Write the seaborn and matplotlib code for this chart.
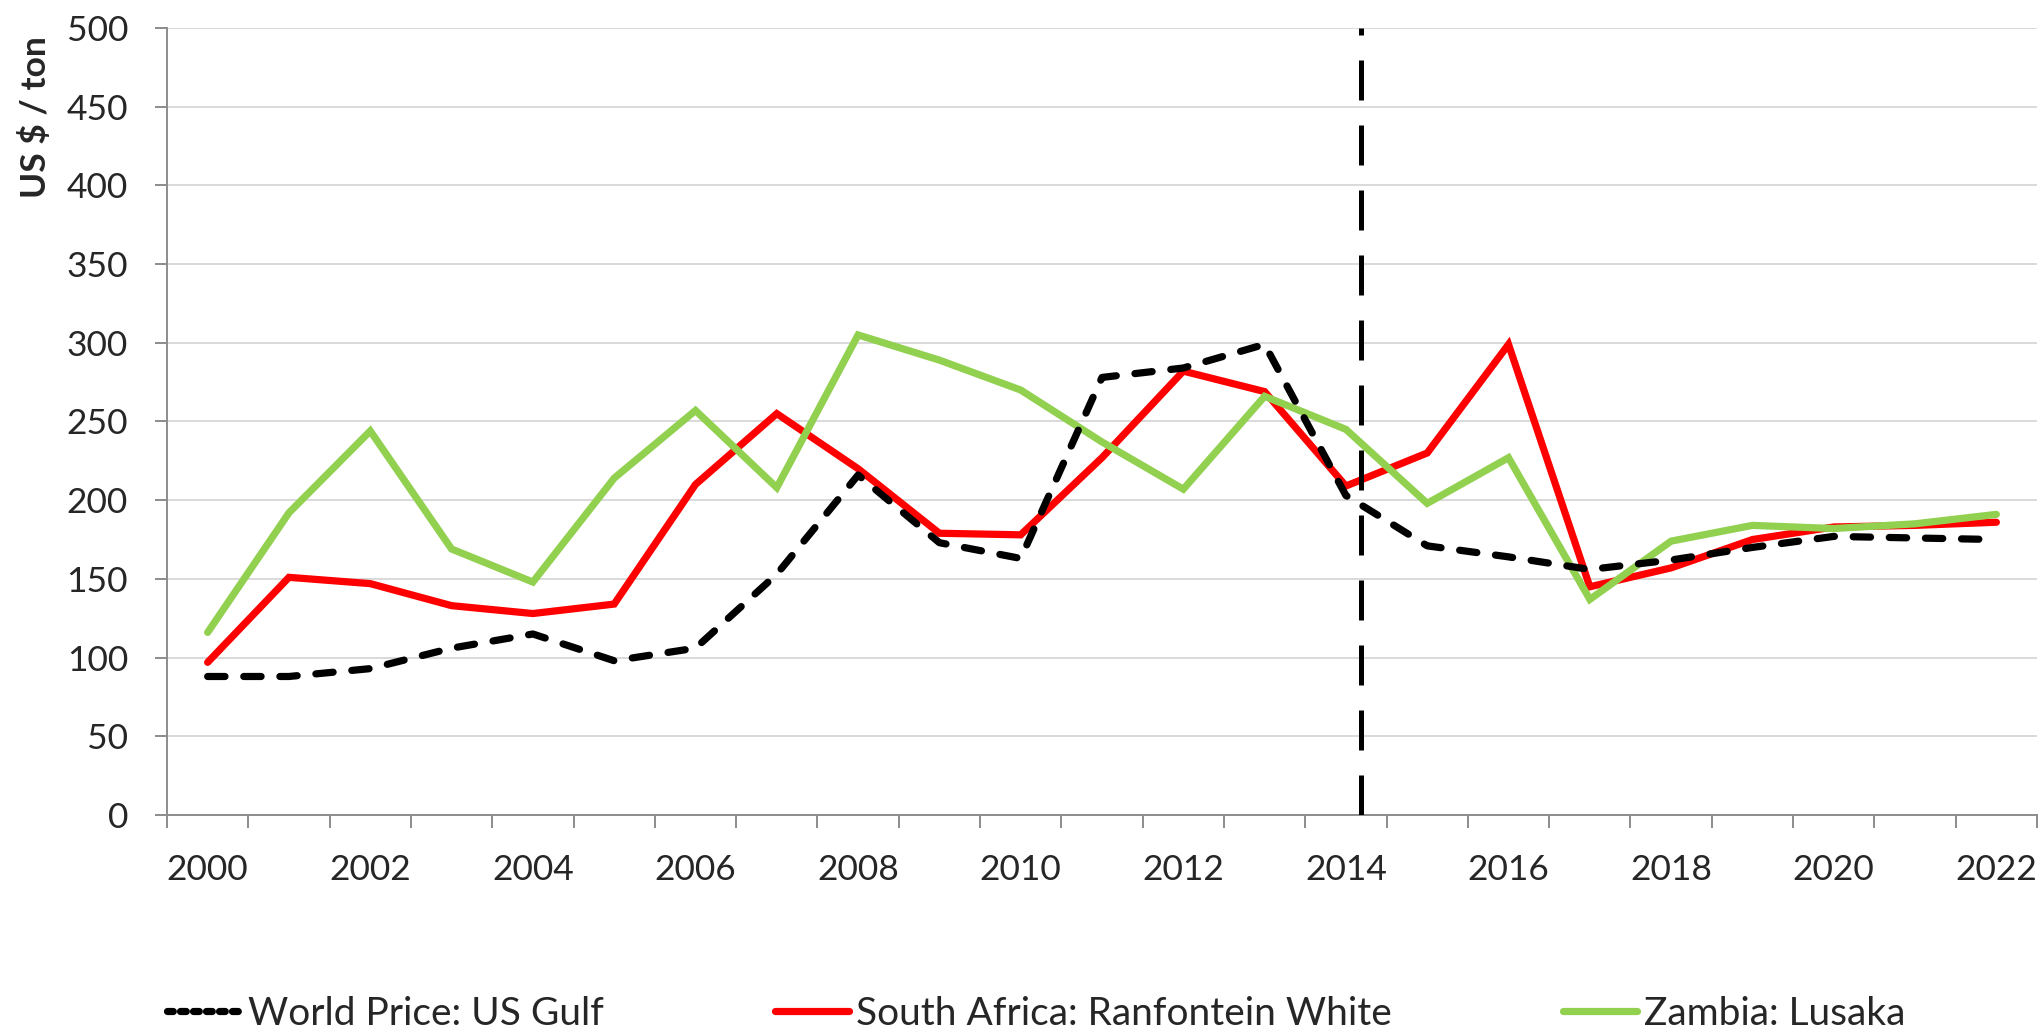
import pandas as pd
import numpy as np
import matplotlib
matplotlib.use("Agg")
import matplotlib.pyplot as plt
import seaborn as sns
from matplotlib.lines import Line2D

years = list(range(2000, 2023))
world_gulf = [88, 88, 93, 106, 115, 98, 106, 153, 216, 173, 163, 278, 284, 299, 203,
              171, 164, 156, 162, 170, 177, 176, 175]
sa_ranfontein = [97, 151, 147, 133, 128, 134, 210, 255, 220, 179, 178, 227, 282, 269, 209,
                 230, 299, 145, 157, 175, 183, 184, 186]
zambia_lusaka = [116, 192, 244, 169, 148, 214, 257, 208, 305, 289, 270, 237, 207, 266, 245,
                 198, 227, 137, 174, 184, 182, 185, 191]
series_names = ["World Price: US Gulf", "South Africa: Ranfontein White", "Zambia: Lusaka"]
year_labels = [str(y) for y in years[::2]]
marker_year = 14.19  # vertical split, category position (2014 ~ +0.19)

sns.set_theme(style="white")
plt.rcParams["font.family"] = ["Lato", "DejaVu Sans"]
fs = 25.5

df = pd.DataFrame({
    "pos": np.arange(len(years)),
    "year": years,
    series_names[0]: world_gulf,
    series_names[1]: sa_ranfontein,
    series_names[2]: zambia_lusaka,
})

fig = plt.figure(figsize=(20.44, 10.32), dpi=100)
ax = fig.add_axes([167 / 2044, 1 - 815 / 1032, (2037 - 167) / 2044, (815 - 28) / 1032])

lw = 5.2
sns.lineplot(data=df, x="pos", y=series_names[1], color="#ff0000", linewidth=lw, ax=ax,
             zorder=3, solid_capstyle="round", solid_joinstyle="miter")
sns.lineplot(data=df, x="pos", y=series_names[2], color="#92d050", linewidth=lw, ax=ax,
             zorder=4, solid_capstyle="round", solid_joinstyle="miter")
sns.lineplot(data=df, x="pos", y=series_names[0], color="black", linewidth=lw, ax=ax,
             zorder=5, linestyle=(0, (2.4, 2.6)), dash_capstyle="round")

ax.axvline(marker_year, ymin=0, ymax=1, color="black", linewidth=3.6,
           linestyle=(0, (8.0, 5.0)), zorder=6)

ax.set_xlim(-0.5, len(years) - 0.5)
ax.set_ylim(0, 500)
ax.set_yticks(np.arange(0, 501, 50))
ax.set_xticks(np.arange(0, len(years), 2))
ax.set_xticklabels(year_labels)
ax.set_xticks(np.arange(-0.5, len(years), 1), minor=True)
ax.set_xlabel("")
ax.set_ylabel("")

ax.grid(axis="y", color="#d9d9d9", linewidth=1.4, zorder=0)
ax.grid(axis="x", visible=False)
ax.set_axisbelow(True)
for s in ["top", "right"]:
    ax.spines[s].set_visible(False)
for s in ["left", "bottom"]:
    ax.spines[s].set_color("#8c8c8c")
    ax.spines[s].set_linewidth(1.4)

ax.tick_params(axis="y", which="major", direction="out", length=9, width=1.4,
               color="#8c8c8c", labelsize=fs, pad=19, left=True)
ax.tick_params(axis="x", which="major", length=0, labelsize=fs, pad=28)
ax.tick_params(axis="x", which="minor", direction="out", length=9.5, width=1.4,
               color="#8c8c8c", bottom=True)

fig.text(35 / 2044, 1 - 117 / 1032, "US $ / ton", rotation=90, ha="center", va="center",
         fontsize=fs, fontweight="bold")

handles = [
    Line2D([], [], color="black", linewidth=lw, linestyle=(0, (0.8, 1.0)), dash_capstyle="round"),
    Line2D([], [], color="#ff0000", linewidth=lw),
    Line2D([], [], color="#92d050", linewidth=lw),
]
fig.legend(handles, series_names, loc="center left",
           bbox_to_anchor=(167 / 2044, 1 - 1014 / 1032), ncol=3, frameon=False,
           fontsize=28, handlelength=1.9, handletextpad=0.18, columnspacing=4.4,
           borderpad=0, borderaxespad=0)

fig.savefig("out.png", dpi=100)
